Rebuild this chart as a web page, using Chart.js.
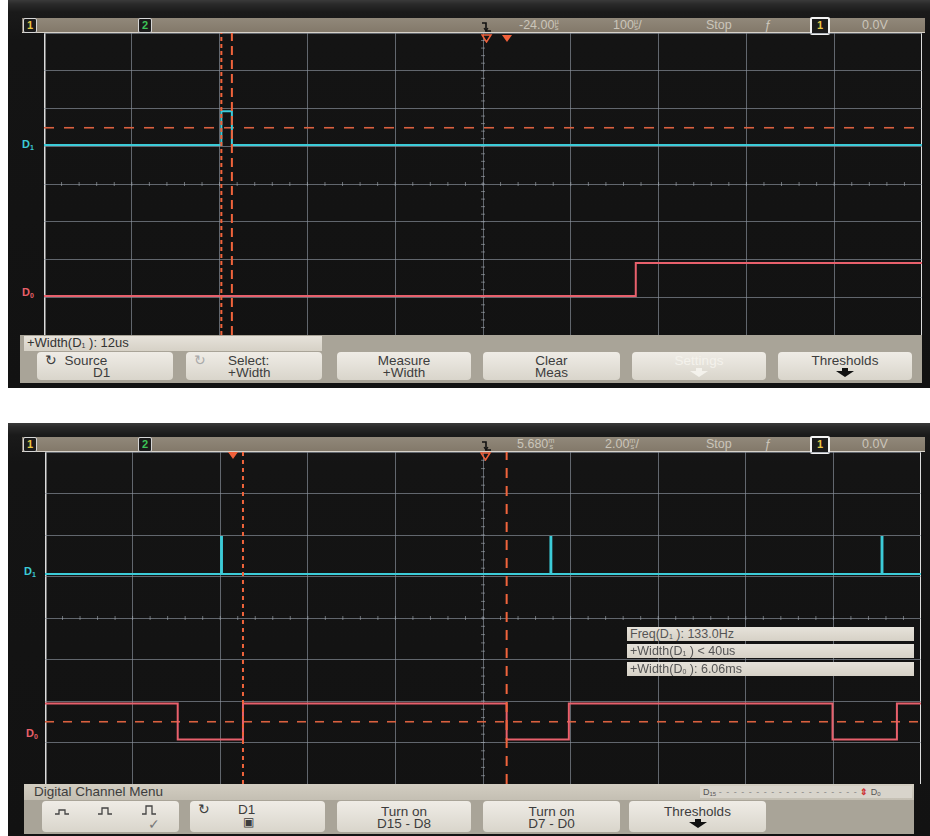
<!DOCTYPE html>
<html><head><meta charset="utf-8">
<script src="https://cdn.jsdelivr.net/npm/chart.js@4.4.1/dist/chart.umd.min.js"></script>
<style>
html,body{margin:0;padding:0;background:#fff;}
body{width:930px;height:836px;position:relative;overflow:hidden;font-family:"Liberation Sans",Arial,sans-serif;}
.a{position:absolute;}
.panel{position:absolute;left:8px;width:922px;background:linear-gradient(#3a3a3a 0px,#2a2a2a 4px,#1a1a1a 12px,#141414 40px,#121212 100%);}
.sbar{position:absolute;left:22px;width:903px;height:14px;background:linear-gradient(#91887a,#83796a);border-bottom:1.5px solid #d8d3ca;}
.st{position:absolute;font-size:12.5px;color:#cbc5ba;line-height:14px;white-space:nowrap;}
.unit{display:inline-block;font-size:7.5px;line-height:6px;vertical-align:top;margin-top:1px;text-align:center;}
.chbox{position:absolute;width:12px;height:13px;background:#1b1b1b;border:1px solid #d6d6d6;border-radius:2px;font-size:11px;font-weight:bold;line-height:13px;text-align:center;}
.grid{position:absolute;}
.lab{position:absolute;font-size:11px;font-weight:bold;line-height:11px;}
.lab sub{font-size:7px;vertical-align:-2px;}
.mbar{position:absolute;background:#a9a498;}
.mbox{position:absolute;background:linear-gradient(#e6e2da,#d6d1c6);color:#555;font-size:12.5px;line-height:14px;padding-left:3px;box-sizing:border-box;white-space:nowrap;}
.mbox sub{font-size:7px;vertical-align:-1px;}
.key{position:absolute;background:linear-gradient(#efece6,#d9d5cb);border-radius:4px;color:#3d3d3d;font-size:13px;line-height:12px;text-align:center;box-sizing:border-box;padding-top:3px;}
.key svg{display:block;margin:1px auto 0;}
</style>
</head><body>

<!-- ===== Top panel ===== -->
<div class="panel" style="top:0;height:388px;"></div>
<div class="sbar" style="top:18px;"></div>
<div class="chbox" style="left:23px;top:18px;color:#e8c845;">1</div>
<div class="chbox" style="left:138px;top:18px;color:#3bc457;">2</div>
<svg class="a" style="left:481px;top:21px;" width="12" height="11"><path d="M1,2 H5 V10 H10" fill="none" stroke="#111" stroke-width="1.6"/><path d="M3,7 L5,10 L7,7" fill="none" stroke="#111" stroke-width="1.2"/></svg>
<div class="st" style="left:519px;top:18px;">-24.00<span class="unit">µ<br>s</span></div>
<div class="st" style="left:613px;top:18px;">100<span class="unit">µ<br>s</span>/</div>
<div class="st" style="left:706px;top:18px;">Stop</div>
<div class="st" style="left:764px;top:18px;font-style:italic;">ƒ</div>
<div class="chbox" style="left:810px;top:17px;width:16px;height:14px;border:2px solid #f2f2f2;color:#e8c845;">1</div>
<div class="st" style="left:862px;top:18px;">0.0V</div>

<div class="grid" style="left:44px;top:33px;width:878px;height:302px;"><canvas id="topChart"></canvas></div>
<svg class="a" style="left:481px;top:34px;" width="34" height="9"><polygon points="1,1 10,1 5.5,8" fill="none" stroke="#f0603a" stroke-width="1.5"/><polygon points="21,1 31,1 26,8" fill="#f0603a"/></svg>

<div class="lab" style="left:22px;top:139px;color:#3ccad6;">D<sub>1</sub></div>
<div class="lab" style="left:22px;top:287px;color:#e8606a;">D<sub>0</sub></div>

<div class="mbar" style="left:20px;top:335px;width:902px;height:48px;"></div>
<div class="mbox" style="left:24px;top:336px;width:298px;height:15px;color:#333;font-size:13px;">+Width(D<sub>1</sub> ): 12us</div>
<div class="key" style="left:37px;top:352px;width:136px;height:28px;text-align:left;padding-left:8px;font-size:13.5px;"><span>&#x21BB;</span>&nbsp; Source<br><span style="padding-left:48px;">D1</span></div>
<div class="key" style="left:186px;top:352px;width:136px;height:28px;text-align:left;padding-left:8px;font-size:13.5px;"><span style="color:#aaa;">&#x21BB;</span><span style="padding-left:22px;">Select:</span><br><span style="padding-left:34px;">+Width</span></div>
<div class="key" style="left:337px;top:352px;width:134px;height:28px;font-size:13.5px;">Measure<br>+Width</div>
<div class="key" style="left:483px;top:352px;width:137px;height:28px;font-size:13.5px;">Clear<br>Meas</div>
<div class="key" style="left:632px;top:352px;width:134px;height:28px;color:#f4f2ec;font-size:13.5px;">Settings<svg width="20" height="9"><polygon points="7,0 13,0 13,3 19,3 10,9 1,3 7,3" fill="#f4f2ec"/></svg></div>
<div class="key" style="left:778px;top:352px;width:134px;height:28px;font-size:13.5px;">Thresholds<svg width="20" height="9"><polygon points="7,0 13,0 13,3 19,3 10,9 1,3 7,3" fill="#111"/></svg></div>

<!-- ===== Bottom panel ===== -->
<div class="panel" style="top:423px;height:413px;"></div>
<div class="sbar" style="top:437px;"></div>
<div class="chbox" style="left:23px;top:437px;color:#e8c845;">1</div>
<div class="chbox" style="left:138px;top:437px;color:#3bc457;">2</div>
<svg class="a" style="left:481px;top:440px;" width="12" height="11"><path d="M1,2 H5 V10 H10" fill="none" stroke="#111" stroke-width="1.6"/><path d="M3,7 L5,10 L7,7" fill="none" stroke="#111" stroke-width="1.2"/></svg>
<div class="st" style="left:517px;top:437px;">5.680<span class="unit">m<br>s</span></div>
<div class="st" style="left:605px;top:437px;">2.00<span class="unit">m<br>s</span>/</div>
<div class="st" style="left:706px;top:437px;">Stop</div>
<div class="st" style="left:764px;top:437px;font-style:italic;">ƒ</div>
<div class="chbox" style="left:810px;top:436px;width:16px;height:14px;border:2px solid #f2f2f2;color:#e8c845;">1</div>
<div class="st" style="left:862px;top:437px;">0.0V</div>

<div class="grid" style="left:45px;top:452px;width:876px;height:332px;"><canvas id="bottomChart"></canvas></div>
<svg class="a" style="left:228px;top:452px;" width="11" height="8"><polygon points="0,0 10,0 5,7" fill="#f0603a"/></svg>
<svg class="a" style="left:480px;top:452px;" width="12" height="9"><polygon points="1,1 10,1 5.5,8" fill="none" stroke="#f0603a" stroke-width="1.5"/></svg>

<div class="lab" style="left:24px;top:566px;color:#3ccad6;">D<sub>1</sub></div>
<div class="lab" style="left:26px;top:728px;color:#e8606a;">D<sub>0</sub></div>

<div class="mbox" style="left:627px;top:627px;width:287px;height:14px;">Freq(D<sub>1</sub> ): 133.0Hz</div>
<div class="mbox" style="left:627px;top:644px;width:287px;height:14px;">+Width(D<sub>1</sub> ) &lt; 40us</div>
<div class="mbox" style="left:627px;top:662px;width:287px;height:14px;">+Width(D<sub>0</sub> ): 6.06ms</div>

<div class="mbar" style="left:24px;top:784px;width:890px;height:50px;"></div>
<div class="mbox" style="left:24px;top:784px;width:890px;height:16px;background:linear-gradient(#d2cdc1,#c4bfb3);color:#3d3d3d;font-size:13.5px;line-height:16px;padding-left:10px;">Digital Channel Menu</div>
<div class="mbox" style="left:700px;top:786px;width:212px;height:12px;background:#d8d4cb;font-size:9px;line-height:12px;color:#555;">D<sub style="font-size:6px;">15</sub> <span style="color:#888;letter-spacing:1px;">- - - - - - - - - - - - - - - - - - -</span> <span style="color:#c33;font-weight:bold;">&#x21D5;</span> D<sub style="font-size:6px;">0</sub></div>
<div class="key" style="left:42px;top:801px;width:137px;height:31px;font-size:14px;text-align:left;padding-left:12px;padding-top:4px;">
<svg style="display:inline;margin:0;" width="110" height="12"><path d="M1,9 H5 V5 H11 V9 H15" fill="none" stroke="#444" stroke-width="1.3"/><path d="M44,9 H48 V3 H54 V9 H58" fill="none" stroke="#444" stroke-width="1.3"/><path d="M88,9 H92 V1 H98 V9 H102" fill="none" stroke="#444" stroke-width="1.3"/></svg><br><span style="padding-left:94px;color:#777;">&#x2713;</span></div>
<div class="key" style="left:190px;top:801px;width:135px;height:31px;text-align:left;padding-left:8px;font-size:13.5px;"><span>&#x21BB;</span><span style="padding-left:28px;">D1</span><br><span style="padding-left:45px;font-size:12px;">&#x25A3;</span></div>
<div class="key" style="left:337px;top:801px;width:134px;height:31px;padding-top:5px;font-size:13.5px;">Turn on<br>D15 - D8</div>
<div class="key" style="left:483px;top:801px;width:137px;height:31px;padding-top:5px;font-size:13.5px;">Turn on<br>D7 - D0</div>
<div class="key" style="left:629px;top:801px;width:137px;height:31px;padding-top:5px;font-size:13.5px;">Thresholds<svg width="20" height="9"><polygon points="7,0 13,0 13,3 19,3 10,9 1,3 7,3" fill="#111"/></svg></div>

<script>
// ---------------- DATA ----------------
// Top capture: 100 µs/div, centre reference -24.00 µs
const topTimeTicksUs   = [-524,-424,-324,-224,-124,-24,76,176,276,376,476];
const topD1TimesUs     = [-524,-322,-310,476];
const topD1Levels      = [0,1,0,0];
const topD0TimesUs     = [-524,150,476];
const topD0Levels      = [0,1,1];
const topCursorTimesUs = [-322,-310];
const topThresholdDiv  = 5.49;

// Bottom capture: 2.00 ms/div, centre reference 5.680 ms
const bottomTimeTicksMs   = [-4.32,-2.32,-0.32,1.68,3.68,5.68,7.68,9.68,11.68,13.68,15.68];
const bottomD1TimesMs     = [-4.32,-0.30,-0.28,7.22,7.24,14.78,14.80,15.68];
const bottomD1Levels      = [0,1,0,1,0,1,0,0];
const bottomD0TimesMs     = [-4.32,-1.29,0.20,6.22,7.64,13.66,15.13,15.68];
const bottomD0Levels      = [1,0,1,0,1,0,1,1];
const bottomCursorTimesMs = [0.20,6.22];
const bottomThresholdDiv  = 1.5;

const verticalDivTicks = [0,1,2,3,4,5,6,7,8];

// ---------------- STYLE ----------------
const CYAN = '#3ccbd8', RED = '#e8606c', ORANGE = '#f0643c', THR = '#d9603f';

const minorTicks = {
  id: 'minorTicks',
  beforeDatasetsDraw(chart) {
    const {ctx, chartArea: a} = chart;
    const cx = chart.scales.x.getPixelForValue(chart.scales.x.ticks[5].value);
    const cy = chart.scales.y.getPixelForValue(4);
    const dx = (a.right - a.left) / 50, dy = (a.bottom - a.top) / 40;
    ctx.save();
    ctx.strokeStyle = 'rgba(165,172,180,0.6)';
    ctx.lineWidth = 1;
    ctx.beginPath();
    for (let i = 1; i < 50; i++) { const x = a.left + i * dx; ctx.moveTo(x, cy - 2); ctx.lineTo(x, cy + 2); }
    for (let j = 1; j < 40; j++) { const y = a.top + j * dy; ctx.moveTo(cx - 2, y); ctx.lineTo(cx + 2, y); }
    ctx.stroke();
    ctx.restore();
  }
};

function trace(times, levels, base, amp, color) {
  return {
    data: times.map((t, i) => ({x: t, y: base + levels[i] * amp})),
    borderColor: color, borderWidth: 2, stepped: true, pointRadius: 0, order: 1
  };
}
function cursor(t, dash) {
  return {data: [{x: t, y: 0}, {x: t, y: 8}], borderColor: ORANGE, borderWidth: 2, borderDash: dash, pointRadius: 0, order: 0};
}
function threshold(ticks, lvl, dash) {
  return {data: [{x: ticks[0], y: lvl}, {x: ticks[ticks.length - 1], y: lvl}], borderColor: THR, borderWidth: 1.6, borderDash: dash, pointRadius: 0, order: 2};
}

function makeScope(id, ticks, datasets) {
  new Chart(document.getElementById(id), {
    type: 'line',
    data: {datasets},
    plugins: [minorTicks],
    options: {
      responsive: true, maintainAspectRatio: false, animation: false,
      layout: {padding: 0},
      plugins: {legend: {display: false}, tooltip: {enabled: false}},
      scales: {
        x: {
          type: 'linear', min: ticks[0], max: ticks[ticks.length - 1],
          afterBuildTicks: s => { s.ticks = ticks.map(v => ({value: v})); },
          ticks: {display: false},
          border: {display: false},
          grid: {
            drawTicks: false,
            color: c => (c.index === 0 || c.index === ticks.length - 1) ? '#dcdcdc' : 'rgba(140,148,158,0.65)',
            lineWidth: c => (c.index === 0 || c.index === ticks.length - 1) ? 2.5 : 1
          }
        },
        y: {
          min: 0, max: 8,
          afterBuildTicks: s => { s.ticks = verticalDivTicks.map(v => ({value: v})); },
          ticks: {display: false},
          border: {display: false},
          grid: {drawTicks: false, color: 'rgba(140,148,158,0.65)', lineWidth: 1}
        }
      }
    }
  });
}

makeScope('topChart', topTimeTicksUs, [
  trace(topD1TimesUs, topD1Levels, 5.03, 0.9, CYAN),
  trace(topD0TimesUs, topD0Levels, 1.03, 0.88, RED),
  threshold(topTimeTicksUs, topThresholdDiv, [10, 10]),
  cursor(topCursorTimesUs[0], [4, 3]),
  cursor(topCursorTimesUs[1], [9, 5])
]);

makeScope('bottomChart', bottomTimeTicksMs, [
  trace(bottomD1TimesMs, bottomD1Levels, 5.06, 0.89, CYAN),
  trace(bottomD0TimesMs, bottomD0Levels, 1.07, 0.87, RED),
  threshold(bottomTimeTicksMs, bottomThresholdDiv, [9, 9]),
  cursor(bottomCursorTimesMs[0], [4, 4]),
  cursor(bottomCursorTimesMs[1], [10, 8])
]);
</script>
</body></html>
